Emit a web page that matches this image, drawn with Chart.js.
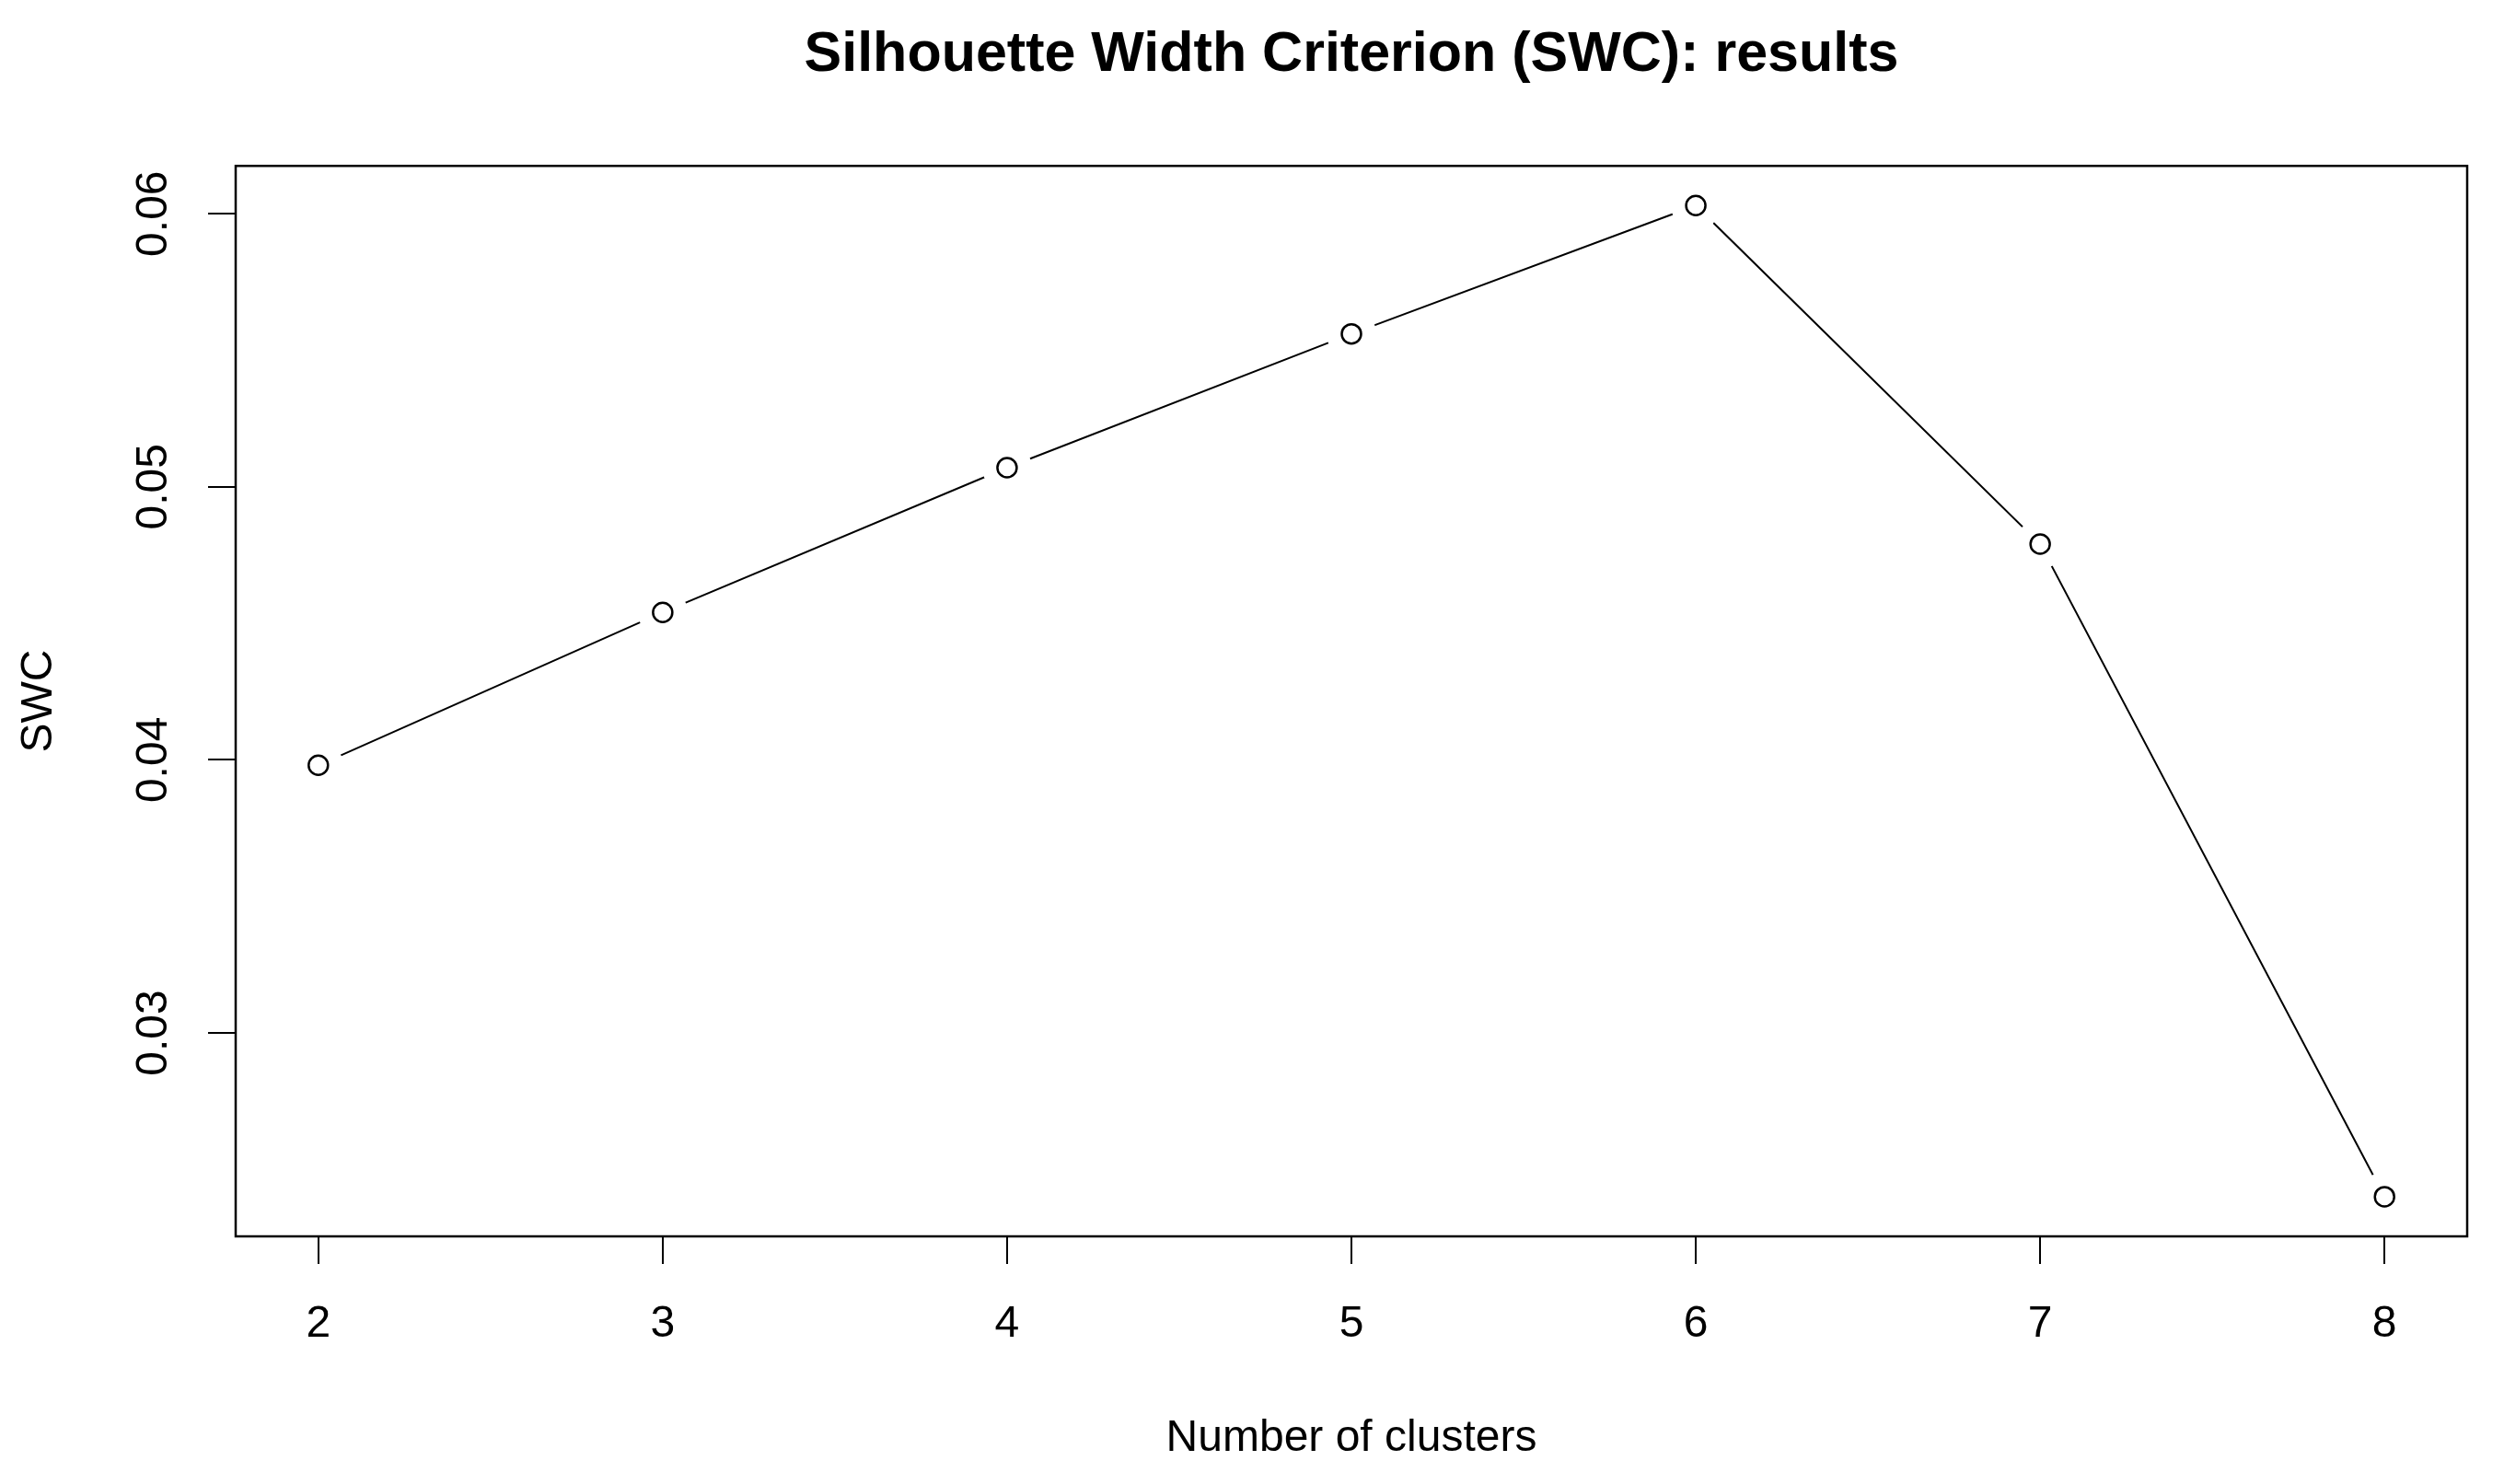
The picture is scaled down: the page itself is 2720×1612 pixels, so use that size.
<!DOCTYPE html>
<html><head><meta charset="utf-8">
<script src="https://cdn.jsdelivr.net/npm/chart.js@4.4.1/dist/chart.umd.min.js"></script>
<style>html,body{margin:0;padding:0;background:#fff}#c{display:block}</style>
</head><body>
<canvas id="c" width="2720" height="1612"></canvas>
<script>
const clusters = [2, 3, 4, 5, 6, 7, 8];
const swc = [0.0398, 0.0454, 0.0507, 0.0556, 0.0603, 0.0479, 0.0240];
const xTicks = [2, 3, 4, 5, 6, 7, 8];
const yTicks = [0.03, 0.04, 0.05, 0.06];
const yTickLabels = ['0.03', '0.04', '0.05', '0.06'];
const chartTitle = 'Silhouette Width Criterion (SWC): results';
const xTitle = 'Number of clusters';
const yTitle = 'SWC';

const FONT = '"Liberation Sans", Arial, Helvetica, sans-serif';
const pts = clusters.map((c, i) => ({x: c, y: swc[i]}));

// R-style 4% axis extension
const xr = Math.max(...clusters) - Math.min(...clusters);
const yr = Math.max(...swc) - Math.min(...swc);
const xMin = Math.min(...clusters) - 0.04 * xr, xMax = Math.max(...clusters) + 0.04 * xr;
const yMin = Math.min(...swc) - 0.04 * yr, yMax = Math.max(...swc) + 0.04 * yr;

const boxPlugin = {
  id: 'box',
  afterDatasetsDraw(chart) {
    const a = chart.chartArea, ctx = chart.ctx;
    ctx.save();
    ctx.strokeStyle = '#000';
    ctx.lineWidth = 2.5;
    ctx.strokeRect(a.left, a.top, a.right - a.left, a.bottom - a.top);
    ctx.restore();
  }
};

new Chart(document.getElementById('c'), {
  type: 'scatter',
  data: {
    datasets: [
      {data: pts, showLine: true, borderColor: '#000', borderWidth: 2, pointRadius: 0, order: 3, tension: 0},
      {data: pts, showLine: false, pointRadius: 27, pointBackgroundColor: '#fff', pointBorderWidth: 0, pointBorderColor: '#fff', order: 2},
      {data: pts, showLine: false, pointRadius: 10.5, pointBackgroundColor: '#fff', pointBorderColor: '#000', pointBorderWidth: 2.5, order: 1}
    ]
  },
  options: {
    responsive: false,
    animation: false,
    devicePixelRatio: 1,
    layout: {padding: {left: 0, right: 40, top: 0, bottom: 0}},
    plugins: {
      legend: {display: false},
      tooltip: {enabled: false},
      title: {
        display: true, text: chartTitle, color: '#000', fullSize: false,
        font: {family: FONT, size: 61, weight: 'bold', lineHeight: 1.2},
        padding: {top: 24, bottom: 83}
      }
    },
    scales: {
      x: {
        type: 'linear', min: xMin, max: xMax,
        afterBuildTicks: ax => { ax.ticks = xTicks.map(v => ({value: v})); },
        afterFit: ax => { ax.height = 269; },
        grid: {display: true, drawOnChartArea: false, drawTicks: true, tickLength: 30, color: '#000', lineWidth: 2},
        border: {display: false},
        ticks: {color: '#000', font: {family: FONT, size: 48}, padding: 37, maxRotation: 0, autoSkip: false,
          callback: v => String(v)},
        title: {display: true, text: xTitle, color: '#000', font: {family: FONT, size: 48, lineHeight: 1.2}, padding: {top: 0, bottom: 20}}
      },
      y: {
        type: 'linear', min: yMin, max: yMax,
        afterBuildTicks: ax => { ax.ticks = yTicks.map(v => ({value: v})); },
        afterFit: ax => { ax.width = 256; },
        grid: {display: true, drawOnChartArea: false, drawTicks: true, tickLength: 30, color: '#000', lineWidth: 2},
        border: {display: false},
        ticks: {color: '#000', font: {family: FONT, size: 48}, padding: 12, minRotation: 90, maxRotation: 90,
          crossAlign: 'center', autoSkip: false,
          callback: v => yTickLabels[yTicks.findIndex(t => Math.abs(t - v) < 1e-9)]},
        title: {display: true, text: yTitle, color: '#000', font: {family: FONT, size: 48, lineHeight: 1.2}, padding: {top: 14, bottom: 0}}
      }
    }
  },
  plugins: [boxPlugin]
});
</script>
</body></html>
